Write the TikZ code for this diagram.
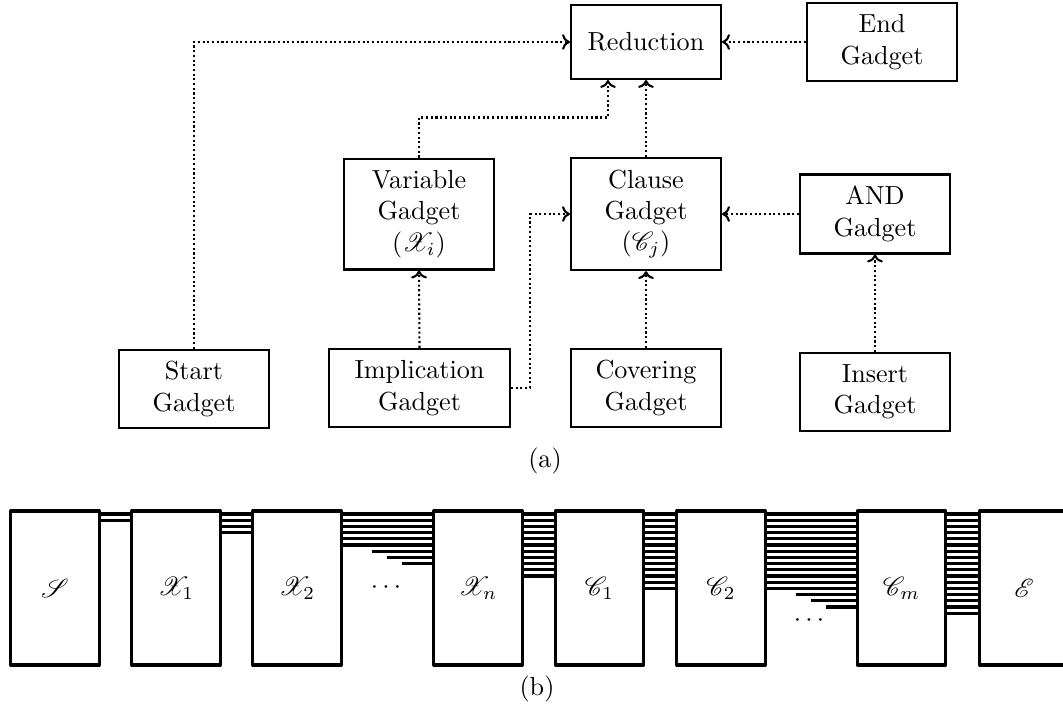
\documentclass[tikz,border=0pt]{standalone}
\usepackage{mathrsfs}
\usetikzlibrary{calc,arrows.meta}

\begin{document}
\begin{tikzpicture}[x=0.3826pt,y=-0.3826pt,
  gadget/.style={draw,thick,align=center,minimum width=57.4pt,minimum height=28.3pt,inner sep=4.5pt},
  flow/.style={-{To[length=3pt,width=6pt]},thick,densely dotted},
  block/.style={draw,very thick,line join=round,minimum width=33.8pt,minimum height=58.9pt},
  wire/.style={very thick}]
\useasboundingbox (0,0) rectangle (1063,706);

% (a) gadgets
\node[gadget] (Red) at (646,42) {Reduction};
\node[gadget] (End) at (882,42) {End\\Gadget};
\node[gadget] (Var) at (419,214) {Variable\\Gadget\\($\mathscr{X}_i$)};
\node[gadget] (Cla) at (646,214) {Clause\\Gadget\\($\mathscr{C}_j$)};
\node[gadget] (And) at (875,214) {AND\\Gadget};
\node[gadget] (Start) at (194,389) {Start\\Gadget};
\node[gadget,minimum width=69.2pt] (Imp) at (419.5,388) {Implication\\Gadget};
\node[gadget] (Cov) at (646,388) {Covering\\Gadget};
\node[gadget] (Ins) at (875,392) {Insert\\Gadget};
\node (capa) at (545,461) {(a)};

\coordinate (RedIn) at ($(Red.south west)!.25!(Red.south east)$);

\draw[flow] (Start.north) |- (Red.west);
\draw[flow] (End.west) -- (Red.east);
\draw[flow] (Var.north) -- ++(0,-40) -| (RedIn);
\draw[flow] (Cla.north) -- (Red.south);
\draw[flow] (Imp.north) -- (Var.south);
\draw[flow] (Imp.east) -- ++(19,0) |- (Cla.west);
\draw[flow] (Cov.north) -- (Cla.south);
\draw[flow] (And.west) -- (Cla.east);
\draw[flow] (Ins.north) -- (And.south);

% (b) chain of gadgets
\node[block] (S) at (55,588) {$\mathscr{S}$};
\node[block] (X1) at (176,588) {$\mathscr{X}_1$};
\node[block] (X2) at (297,588) {$\mathscr{X}_2$};
\node[block] (Xn) at (478,588) {$\mathscr{X}_n$};
\node[block] (C1) at (599.5,588) {$\mathscr{C}_1$};
\node[block] (C2) at (721,588) {$\mathscr{C}_2$};
\node[block] (Cm) at (901.5,588) {$\mathscr{C}_m$};
\node[block] (E) at (1024,588) {$\mathscr{E}$};
\node (dots1) at (386,588) {$\cdots$};
\node (dots2) at (809,621) {$\cdots$};
\node (capb) at (537,689) {(b)};

% wires between blocks
\foreach \a/\b/\n in {S/X1/1, X1/X2/3, X2/Xn/5, Xn/C1/10, C1/C2/12, C2/Cm/12, Cm/E/16}
  \foreach \k in {0,...,\n}
    \draw[wire] ([shift={(0,4.5+6.2*\k)}]\a.north east) -- ([shift={(0,4.5+6.2*\k)}]\b.north west);
% wires that start in the gaps
\foreach \b/\s in {Xn/6, Cm/13}
  \foreach \i in {0,1,2}
    \draw[wire] ([shift={(-60+15*\i,4.5+6.2*(\i+\s))}]\b.north west) -- ([shift={(0,4.5+6.2*(\i+\s))}]\b.north west);
\end{tikzpicture}
\end{document}
